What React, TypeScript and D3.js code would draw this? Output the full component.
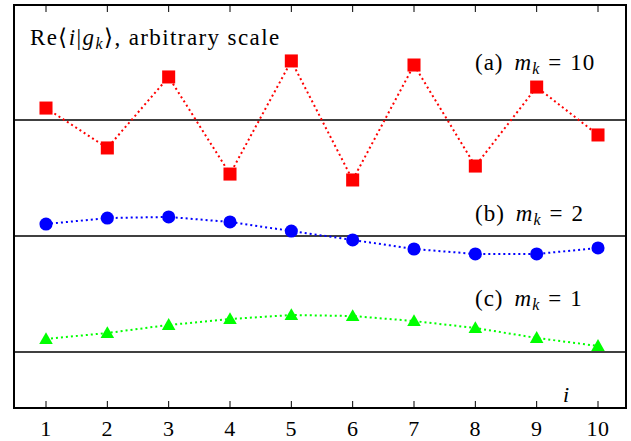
import React, { useEffect, useRef } from "react";
import * as d3 from "d3";

const indices = [1, 2, 3, 4, 5, 6, 7, 8, 9, 10];
const seriesA = [0.103, -0.241, 0.371, -0.466, 0.509, -0.517, 0.474, -0.397, 0.284, -0.129];
const seriesB = [0.103, 0.155, 0.164, 0.121, 0.043, -0.034, -0.112, -0.155, -0.155, -0.103];
const seriesC = [0.112, 0.164, 0.233, 0.284, 0.319, 0.31, 0.267, 0.207, 0.121, 0.052];
const tickLabels = ["1", "2", "3", "4", "5", "6", "7", "8", "9", "10"];

const App = () => {
  const svgRef = useRef<SVGSVGElement>(null);

  useEffect(() => {
    const svg = d3.select(svgRef.current);
    const left = 14;
    const right = 626;
    const top = 5;
    const bottom = 408;

    svg.selectAll("*").remove();

    const x = d3.scaleLinear().domain([1, 10]).range([46, 598]);
    // baselines of the three panels sit at y = 3, 2, 1
    const y = d3.scaleLinear().domain([1, 3]).range([352, 120]);

    const font = "'Liberation Serif', serif";

    // frame
    svg.append("rect")
      .attr("x", left)
      .attr("y", top)
      .attr("width", right - left)
      .attr("height", bottom - top)
      .attr("fill", "white")
      .attr("stroke", "black")
      .attr("stroke-width", 2);

    // ticks (inward, top and bottom)
    svg.selectAll("line.tb")
      .data(indices)
      .join("line")
      .attr("class", "tb")
      .attr("x1", d => x(d))
      .attr("x2", d => x(d))
      .attr("y1", bottom)
      .attr("y2", bottom - 7)
      .attr("stroke", "black");
    svg.selectAll("line.tt")
      .data(indices)
      .join("line")
      .attr("class", "tt")
      .attr("x1", d => x(d))
      .attr("x2", d => x(d))
      .attr("y1", top)
      .attr("y2", top + 7)
      .attr("stroke", "black");

    svg.selectAll("text.tick")
      .data(tickLabels)
      .join("text")
      .attr("class", "tick")
      .attr("x", (_, i) => x(indices[i]))
      .attr("y", 436)
      .attr("text-anchor", "middle")
      .attr("font-family", font)
      .attr("font-size", 22)
      .attr("letter-spacing", 0.5)
      .text(d => d);

    // zero lines
    [3, 2, 1].forEach(b => {
      svg.append("line")
        .attr("x1", left)
        .attr("x2", right)
        .attr("y1", y(b))
        .attr("y2", y(b))
        .attr("stroke", "black")
        .attr("stroke-width", 1.3);
    });

    const panels = [
      { data: seriesA, base: 3, color: "#ff0000", shape: d3.symbolSquare, size: 170 },
      { data: seriesB, base: 2, color: "#0000ff", shape: d3.symbolCircle, size: 135 },
      { data: seriesC, base: 1, color: "#00ff00", shape: d3.symbolTriangle, size: 80 },
    ];

    panels.forEach(p => {
      const line = d3.line<number>()
        .x((_, i) => x(indices[i]))
        .y(d => y(p.base + d));
      svg.append("path")
        .attr("d", line(p.data))
        .attr("fill", "none")
        .attr("stroke", p.color)
        .attr("stroke-width", 2)
        .attr("stroke-dasharray", "2 3");
      svg.selectAll(null)
        .data(p.data)
        .join("path")
        .attr("transform", (d, i) => `translate(${x(indices[i])},${y(p.base + d) + (p.shape === d3.symbolTriangle ? 1 : 0)})`)
        .attr("d", d3.symbol().type(p.shape).size(p.size)())
        .attr("fill", p.color);
    });

    // labels
    const title = svg.append("text")
      .attr("x", 30)
      .attr("y", 45)
      .attr("font-family", font)
      .attr("font-size", 23)
      .attr("letter-spacing", 1.4);
    title.append("tspan").text("Re\u27E8");
    title.append("tspan").attr("font-style", "italic").text("i");
    title.append("tspan").text("|");
    title.append("tspan").attr("font-style", "italic").text("g");
    title.append("tspan").attr("font-style", "italic").attr("font-size", 16).attr("dy", 4).text("k");
    title.append("tspan").attr("dy", -4).text("\u27E9, arbitrary scale");

    const panelLabels = [
      { tag: "(a)", val: "10", yy: 70 },
      { tag: "(b)", val: "2", yy: 221 },
      { tag: "(c)", val: "1", yy: 306 },
    ];
    panelLabels.forEach(l => {
      const t = svg.append("text")
        .attr("x", 475)
        .attr("y", l.yy)
        .attr("font-family", font)
        .attr("font-size", 23)
        .attr("letter-spacing", 1);
      t.append("tspan").text(l.tag);
      t.append("tspan").attr("dx", 11).attr("font-style", "italic").text("m");
      t.append("tspan").attr("font-style", "italic").attr("font-size", 16).attr("dy", 4).text("k");
      t.append("tspan").attr("dy", -4).attr("dx", 8).text("=");
      t.append("tspan").attr("dx", 8).text(l.val);
    });

    svg.append("text")
      .attr("x", 563)
      .attr("y", 402)
      .attr("font-family", font)
      .attr("font-style", "italic")
      .attr("font-size", 22)
      .text("i");
  }, []);

  return (
    <svg
      ref={svgRef}
      width={631}
      height={441}
      style={{ position: "absolute", left: 0, top: 0, background: "white" }}
    />
  );
};

export default App;
